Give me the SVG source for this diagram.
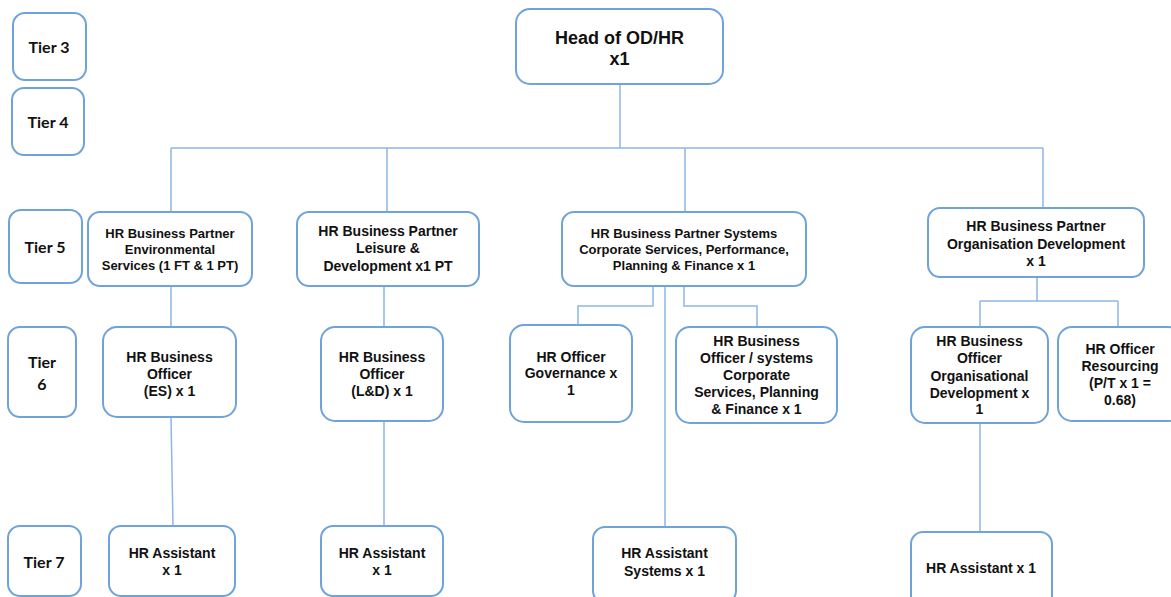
<svg xmlns="http://www.w3.org/2000/svg" width="1171" height="597" viewBox="0 0 1171 597">
<style>
.b{fill:#fff;stroke:#6FA3DB;stroke-width:2}
.t{font-family:"Liberation Sans",Arial,sans-serif;font-weight:bold;fill:#111;text-anchor:middle}
.tier{font-family:Lato,"Open Sans",sans-serif;font-weight:bold;font-size:16px;fill:#111;text-anchor:middle}
.c{fill:none;stroke:#8DB6E4;stroke-width:1.5}
</style>
<rect width="1171" height="597" fill="#fff"/>
<g id="connectors">
<path class="c" d="M620 84V148M171 148H1043M171 148V212M387 148V212M685 148V212M1043 148V208"/>
<path class="c" d="M171 286V327M171 417L173 526M384 286V327M384 421V526"/>
<path class="c" d="M653 286V306H578V325M665 286V527M684 286V306H757V327"/>
<path class="c" d="M1037 277V301M980 301H1118M980 301V327M1118 301V327M980 423V532"/>
</g>
<g id="tier3"><rect class="b" x="13" y="13" width="73" height="67" rx="12"/><text class="tier" x="49" y="53">Tier 3</text></g>
<g id="tier4"><rect class="b" x="12" y="88" width="72" height="67" rx="12"/><text class="tier" x="48" y="128">Tier 4</text></g>
<g id="tier5"><rect class="b" x="9" y="210" width="73" height="73" rx="12"/><text class="tier" x="45" y="253">Tier 5</text></g>
<g id="tier6"><rect class="b" x="8" y="327" width="68" height="90" rx="12"/><text class="tier" x="42" y="368">Tier</text><text class="tier" x="42" y="390">6</text></g>
<g id="tier7"><rect class="b" x="8" y="526" width="73" height="70" rx="12"/><text class="tier" x="44" y="568">Tier 7</text></g>
<g id="head"><rect class="b" x="516" y="9" width="207" height="75" rx="14"/><text class="t" font-size="18" x="619.5" y="44">Head of OD/HR</text><text class="t" font-size="18" x="619.5" y="65">x1</text></g>
<g id="bp-env"><rect class="b" x="88" y="212" width="164" height="74" rx="12"/><text class="t" font-size="13" x="170" y="238">HR Business Partner</text><text class="t" font-size="13" x="170" y="254">Environmental</text><text class="t" font-size="13" x="170" y="270">Services (1 FT &amp; 1 PT)</text></g>
<g id="bp-leisure"><rect class="b" x="297" y="212" width="182" height="74" rx="12"/><text class="t" font-size="14" x="388" y="236">HR Business Partner</text><text class="t" font-size="14" x="388" y="253">Leisure &amp;</text><text class="t" font-size="14" x="388" y="271">Development x1 PT</text></g>
<g id="bp-systems"><rect class="b" x="562" y="212" width="244" height="74" rx="12"/><text class="t" font-size="13" x="684" y="238">HR Business Partner Systems</text><text class="t" font-size="13" x="684" y="254">Corporate Services, Performance,</text><text class="t" font-size="13" x="684" y="270">Planning &amp; Finance x 1</text></g>
<g id="bp-od"><rect class="b" x="928" y="208" width="216" height="69" rx="12"/><text class="t" font-size="14" x="1036" y="231">HR Business Partner</text><text class="t" font-size="14" x="1036" y="249">Organisation Development</text><text class="t" font-size="14" x="1036" y="266">x 1</text></g>
<g id="bo-es"><rect class="b" x="103" y="327" width="133" height="90" rx="14"/><text class="t" font-size="14" x="169.5" y="362">HR Business</text><text class="t" font-size="14" x="169.5" y="379">Officer</text><text class="t" font-size="14" x="169.5" y="396">(ES) x 1</text></g>
<g id="bo-ld"><rect class="b" x="321" y="327" width="122" height="94" rx="14"/><text class="t" font-size="14" x="382" y="362">HR Business</text><text class="t" font-size="14" x="382" y="379">Officer</text><text class="t" font-size="14" x="382" y="396">(L&amp;D) x 1</text></g>
<g id="ho-gov"><rect class="b" x="510" y="325" width="122" height="97" rx="14"/><text class="t" font-size="14" x="571" y="362">HR Officer</text><text class="t" font-size="14" x="571" y="378">Governance x</text><text class="t" font-size="14" x="571" y="395">1</text></g>
<g id="bo-systems"><rect class="b" x="676" y="327" width="161" height="96" rx="14"/><text class="t" font-size="14" x="756.5" y="346">HR Business</text><text class="t" font-size="14" x="756.5" y="363">Officer / systems</text><text class="t" font-size="14" x="756.5" y="380">Corporate</text><text class="t" font-size="14" x="756.5" y="397">Services, Planning</text><text class="t" font-size="14" x="756.5" y="414">&amp; Finance x 1</text></g>
<g id="bo-od"><rect class="b" x="911" y="327" width="137" height="96" rx="14"/><text class="t" font-size="14" x="979.5" y="346">HR Business</text><text class="t" font-size="14" x="979.5" y="363">Officer</text><text class="t" font-size="14" x="979.5" y="381">Organisational</text><text class="t" font-size="14" x="979.5" y="398">Development x</text><text class="t" font-size="14" x="979.5" y="414">1</text></g>
<g id="ho-res"><rect class="b" x="1058" y="327" width="124" height="94" rx="14"/><text class="t" font-size="14" x="1120" y="354">HR Officer</text><text class="t" font-size="14" x="1120" y="371">Resourcing</text><text class="t" font-size="14" x="1120" y="388">(P/T x 1 =</text><text class="t" font-size="14" x="1120" y="405">0.68)</text></g>
<g id="ha-es"><rect class="b" x="109" y="526" width="126" height="70" rx="12"/><text class="t" font-size="14" x="172" y="558">HR Assistant</text><text class="t" font-size="14" x="172" y="575">x 1</text></g>
<g id="ha-ld"><rect class="b" x="321" y="526" width="122" height="70" rx="12"/><text class="t" font-size="14" x="382" y="558">HR Assistant</text><text class="t" font-size="14" x="382" y="575">x 1</text></g>
<g id="ha-systems"><rect class="b" x="593" y="527" width="143" height="76" rx="12"/><text class="t" font-size="14" x="664.5" y="558">HR Assistant</text><text class="t" font-size="14" x="664.5" y="576">Systems x 1</text></g>
<g id="ha-od"><rect class="b" x="911" y="532" width="141" height="76" rx="12"/><text class="t" font-size="14" x="981" y="573">HR Assistant x 1</text></g>
</svg>
